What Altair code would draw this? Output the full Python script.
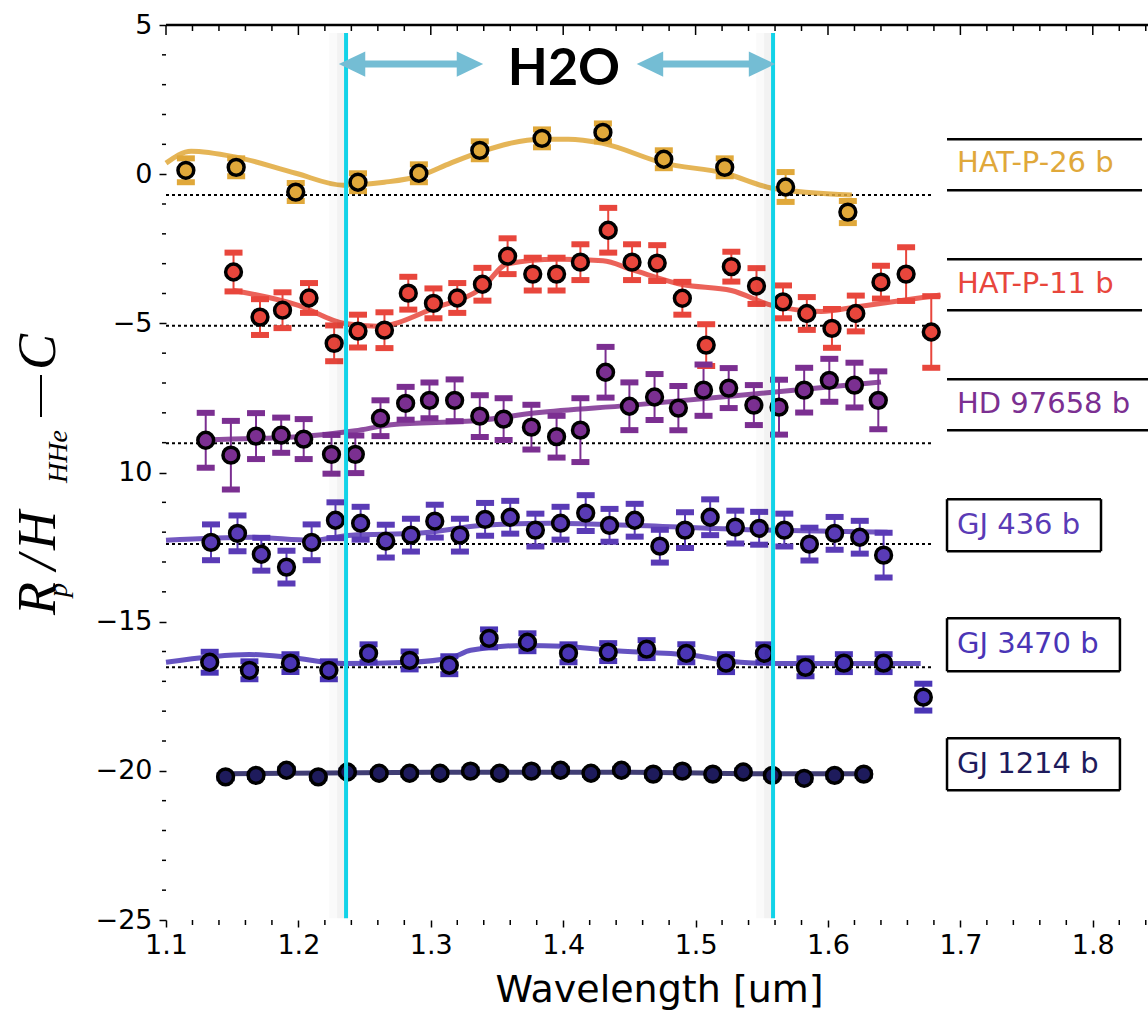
import altair as alt
import pandas as pd

# ---------------- data ----------------
planets = ["HAT-P-26 b", "HAT-P-11 b", "HD 97658 b", "GJ 436 b", "GJ 3470 b", "GJ 1214 b"]
colors = ["#e0a83a", "#e8463c", "#7b2f91", "#5a3bb6", "#4a35b6", "#1e1b5c"]
label_colors = ["#e2ab45", "#e8483d", "#7d3596", "#5a3db8", "#4b36b8", "#23215e"]

hp26_wl = [1.115, 1.153, 1.198, 1.245, 1.291, 1.337, 1.384, 1.430, 1.476, 1.522, 1.568, 1.615]
hp26_val = [0.13, 0.23, -0.60, -0.27, 0.03, 0.80, 1.20, 1.40, 0.50, 0.23, -0.43, -1.27]
hp26_err = [0.4, 0.3, 0.3, 0.3, 0.3, 0.3, 0.3, 0.3, 0.3, 0.3, 0.5, 0.37]
hp26_mwl = [1.100, 1.119, 1.153, 1.198, 1.234, 1.265, 1.291, 1.315, 1.337, 1.384, 1.404, 1.429, 1.476, 1.522, 1.558, 1.618]
hp26_mval = [0.37, 0.77, 0.57, 0.03, -0.37, -0.27, -0.07, 0.37, 0.74, 1.17, 1.17, 1.04, 0.37, 0.03, -0.47, -0.70]

hp11_wl = [1.151, 1.171, 1.188, 1.208, 1.227, 1.245, 1.265, 1.283, 1.302, 1.320, 1.339, 1.358, 1.377, 1.395, 1.413,
           1.434, 1.452, 1.471, 1.490, 1.508, 1.527, 1.546, 1.566, 1.584, 1.603, 1.621, 1.640, 1.659, 1.678]
hp11_val = [-3.28, -4.79, -4.56, -4.15, -5.67, -5.26, -5.23, -3.99, -4.33, -4.15, -3.69, -2.75, -3.35, -3.35, -2.95,
            -1.88, -2.95, -2.98, -4.16, -5.73, -3.10, -3.75, -4.28, -4.67, -5.17, -4.67, -3.62, -3.35, -5.29]
hp11_err = [0.65, 0.6, 0.6, 0.5, 0.6, 0.55, 0.6, 0.55, 0.5, 0.5, 0.55, 0.6, 0.55, 0.55, 0.6,
            0.75, 0.6, 0.6, 0.55, 0.7, 0.5, 0.6, 0.55, 0.55, 0.65, 0.6, 0.55, 0.9, 1.2]
hp11_mwl = [1.151, 1.200, 1.234, 1.260, 1.302, 1.339, 1.358, 1.395, 1.430, 1.452, 1.490, 1.527, 1.558, 1.595, 1.621, 1.685]
hp11_mval = [-3.9, -4.4, -5.0, -5.1, -4.5, -3.8, -3.0, -2.85, -2.9, -3.2, -3.7, -3.9, -4.4, -4.6, -4.45, -4.05]

hd_wl = [1.130, 1.149, 1.168, 1.187, 1.204, 1.225, 1.243, 1.262, 1.281, 1.299, 1.318, 1.337, 1.355, 1.376,
         1.395, 1.413, 1.432, 1.450, 1.469, 1.487, 1.506, 1.525, 1.544, 1.563, 1.582, 1.601, 1.620, 1.638]
hd_val = [-8.92, -9.42, -8.78, -8.75, -8.88, -9.39, -9.39, -8.18, -7.68, -7.58, -7.58, -8.11, -8.21, -8.48,
          -8.80, -8.58, -6.64, -7.78, -7.47, -7.84, -7.24, -7.17, -7.74, -7.81, -7.24, -6.91, -7.07, -7.58]
hd_err = [0.92, 1.15, 0.77, 0.59, 0.67, 0.65, 0.63, 0.6, 0.55, 0.6, 0.7, 0.7, 0.7, 0.75,
          0.7, 1.07, 0.85, 0.8, 0.77, 0.74, 0.86, 0.67, 0.67, 0.92, 0.75, 0.72, 0.75, 0.97]
hd_mwl = [1.130, 1.200, 1.243, 1.270, 1.337, 1.380, 1.450, 1.560, 1.640]
hd_mval = [-8.9, -8.8, -8.6, -8.4, -8.25, -8.0, -7.75, -7.3, -6.97]

gj436_wl = [1.134, 1.154, 1.172, 1.191, 1.210, 1.228, 1.247, 1.266, 1.285, 1.303, 1.322, 1.341, 1.360, 1.379,
            1.398, 1.417, 1.435, 1.454, 1.473, 1.492, 1.511, 1.530, 1.548, 1.567, 1.586, 1.605, 1.624, 1.642]
gj436_val = [-12.34, -12.04, -12.74, -13.17, -12.34, -11.60, -11.70, -12.30, -12.10, -11.63, -12.10, -11.57, -11.50, -11.93,
             -11.70, -11.36, -11.77, -11.60, -12.47, -11.93, -11.50, -11.83, -11.87, -11.93, -12.40, -12.04, -12.17, -12.77]
gj436_err = [0.6, 0.6, 0.55, 0.55, 0.6, 0.6, 0.55, 0.55, 0.55, 0.55, 0.55, 0.55, 0.55, 0.55,
             0.55, 0.6, 0.55, 0.55, 0.55, 0.6, 0.6, 0.55, 0.55, 0.55, 0.55, 0.55, 0.55, 0.75]
gj436_mwl = [1.100, 1.165, 1.210, 1.240, 1.290, 1.340, 1.390, 1.450, 1.550, 1.645]
gj436_mval = [-12.27, -12.17, -12.27, -12.10, -12.04, -11.77, -11.70, -11.77, -11.93, -12.00]

gj3470_wl = [1.133, 1.163, 1.194, 1.223, 1.253, 1.284, 1.314, 1.344, 1.373, 1.404, 1.434, 1.463, 1.493, 1.523,
             1.552, 1.583, 1.612, 1.642, 1.672]
gj3470_val = [-16.36, -16.63, -16.39, -16.63, -16.06, -16.30, -16.46, -15.56, -15.69, -16.06, -16.02, -15.92, -16.06, -16.39,
              -16.06, -16.53, -16.39, -16.39, -17.53]
gj3470_err = [0.35, 0.3, 0.3, 0.3, 0.3, 0.3, 0.3, 0.3, 0.3, 0.3, 0.3, 0.3, 0.3, 0.3, 0.3, 0.3, 0.3, 0.3, 0.45]
gj3470_mwl = [1.100, 1.163, 1.194, 1.234, 1.284, 1.316, 1.330, 1.370, 1.400, 1.434, 1.496, 1.534, 1.559, 1.670]
gj3470_mval = [-16.36, -16.10, -16.20, -16.40, -16.36, -16.20, -15.96, -15.80, -15.82, -15.96, -16.12, -16.36, -16.40, -16.40]

gj1214_wl = [1.145, 1.168, 1.191, 1.215, 1.237, 1.261, 1.284, 1.307, 1.330, 1.352, 1.376, 1.398, 1.421, 1.444,
             1.468, 1.490, 1.513, 1.536, 1.558, 1.582, 1.605, 1.627]
gj1214_val = [-20.20, -20.15, -19.98, -20.20, -20.04, -20.08, -20.08, -20.08, -20.01, -20.08, -20.01, -19.98, -20.08, -19.98,
              -20.11, -20.01, -20.11, -20.04, -20.15, -20.25, -20.15, -20.11]
gj1214_err = [0.05, 0.05, 0.05, 0.05, 0.05, 0.05, 0.05, 0.05, 0.05, 0.05, 0.05, 0.05, 0.05, 0.05,
              0.05, 0.05, 0.05, 0.05, 0.05, 0.05, 0.05, 0.05]
gj1214_mwl = [1.145, 1.300, 1.450, 1.558, 1.630]
gj1214_mval = [-20.10, -20.05, -20.05, -20.10, -20.10]

baseline_planets = ["HAT-P-26 b", "HAT-P-11 b", "HD 97658 b", "GJ 436 b", "GJ 3470 b"]
baseline_levels = [-0.70, -5.08, -9.02, -12.40, -16.53]
baseline_start = 1.10
baseline_end = 1.68

h2o_band = [1.236, 1.5585]          # cyan band edges (um)
band_top, band_bottom = 4.73, -24.94
arrow_tips = [(1.2307, 1.3394), (1.4557, 1.5600)]
arrow_level = 3.69
h2o_label = "H2O"

x_ticks = [1.1, 1.2, 1.3, 1.4, 1.5, 1.6, 1.7, 1.8]
y_ticks = [5, 0, -5, -10, -15, -20, -25]

# ---------------- tables ----------------
series = [
    ("HAT-P-26 b", hp26_wl, hp26_val, hp26_err, hp26_mwl, hp26_mval),
    ("HAT-P-11 b", hp11_wl, hp11_val, hp11_err, hp11_mwl, hp11_mval),
    ("HD 97658 b", hd_wl, hd_val, hd_err, hd_mwl, hd_mval),
    ("GJ 436 b", gj436_wl, gj436_val, gj436_err, gj436_mwl, gj436_mval),
    ("GJ 3470 b", gj3470_wl, gj3470_val, gj3470_err, gj3470_mwl, gj3470_mval),
    ("GJ 1214 b", gj1214_wl, gj1214_val, gj1214_err, gj1214_mwl, gj1214_mval),
]
pt_rows, md_rows = [], []
for name, wl, val, err, mwl, mval in series:
    for w, v, e in zip(wl, val, err):
        pt_rows.append(dict(planet=name, wl=w, val=v, lo=v - e, hi=v + e))
    for i, (w, v) in enumerate(zip(mwl, mval)):
        md_rows.append(dict(planet=name, wl=w, val=v, order=i))
pts = pd.DataFrame(pt_rows)
models = pd.DataFrame(md_rows)
baselines = pd.DataFrame(dict(planet=baseline_planets, val=baseline_levels,
                              wl=[baseline_start] * 5, wl2=[baseline_end] * 5))

# plot geometry
W, H = 982, 895
XMAX = 1.8417
xscale = alt.Scale(domain=[1.1, XMAX], nice=False, zero=False)
yscale = alt.Scale(domain=[-25, 5], nice=False, zero=False)
cscale = alt.Scale(domain=planets, range=colors)

xaxis = alt.Axis(values=x_ticks, format=".1f", title="Wavelength [um]", domain=False, grid=False,
                 tickSize=7, tickWidth=1.5, tickColor="black", labelFontSize=27, labelColor="black",
                 labelFont="DejaVu Sans", labelPadding=5, labelFlush=False, labelOverlap=False,
                 titleFont="DejaVu Sans", titleFontSize=38, titleFontWeight="normal", titleColor="black",
                 titleX=493, titleY=70, titleBaseline="middle", titleAlign="center", titleAngle=0)
yaxis = alt.Axis(values=y_ticks, format="d", title=None, domain=False, grid=False,
                 tickSize=7, tickWidth=1.5, tickColor="black", labelFontSize=27, labelColor="black",
                 labelFont="DejaVu Sans", labelPadding=7, labelFlush=False, labelOverlap=False,
                 labelExpr="datum.value == -10 ? '10' : datum.label")


def X(f):
    return alt.X(f, type="quantitative", scale=xscale, axis=xaxis)


def Y(f):
    return alt.Y(f, type="quantitative", scale=yscale, axis=yaxis)


COL = alt.Color("planet:N", scale=cscale, legend=None)

layers = []

# frame line and minor ticks
one = pd.DataFrame({"k": [0]})
layers.append(alt.Chart(one).mark_rule(color="black", strokeWidth=2.5).encode(
    x=alt.value(0), x2=alt.value(W), y=alt.value(0)))
minor_x = pd.DataFrame({"t": [round(1.10 + 0.02 * i, 2) for i in range(38)]})
minor_x["major"] = [abs(t * 10 - round(t * 10)) < 1e-6 for t in minor_x["t"]]
layers.append(alt.Chart(minor_x[~minor_x["major"]]).mark_rule(color="black", strokeWidth=1.5).encode(
    x=X("t"), y=alt.value(0), y2=alt.value(6)))
layers.append(alt.Chart(minor_x[minor_x["major"]]).mark_rule(color="black", strokeWidth=1.5).encode(
    x=X("t"), y=alt.value(0), y2=alt.value(10)))
layers.append(alt.Chart(minor_x[~minor_x["major"]]).mark_rule(color="black", strokeWidth=1.5).encode(
    x=X("t"), y=alt.value(H), y2=alt.value(H + 5)))
minor_y = pd.DataFrame({"m": [v for v in range(-24, 5) if v % 5 != 0]})
layers.append(alt.Chart(minor_y).mark_rule(color="black", strokeWidth=1.5).encode(
    y=Y("m"), x=alt.value(-4), x2=alt.value(0)))

# dotted baselines
layers.append(alt.Chart(baselines).mark_rule(color="black", strokeWidth=2, strokeDash=[3, 3]).encode(
    x=X("wl"), x2="wl2", y=Y("val")))

# model lines
layers.append(alt.Chart(models).mark_line(strokeWidth=5, opacity=0.85, interpolate="monotone").encode(
    x=X("wl"), y=Y("val"), color=COL, detail="planet:N", order="order:Q"))

# error bars
layers.append(alt.Chart(pts).mark_rule(strokeWidth=2).encode(x=X("wl"), y=Y("lo"), y2="hi", color=COL))
layers.append(alt.Chart(pts).mark_tick(orient="horizontal", size=18, thickness=6, opacity=1).encode(
    x=X("wl"), y=Y("lo"), color=COL))
layers.append(alt.Chart(pts).mark_tick(orient="horizontal", size=18, thickness=6, opacity=1).encode(
    x=X("wl"), y=Y("hi"), color=COL))

# points
layers.append(alt.Chart(pts).mark_circle(size=250, stroke="black", strokeWidth=3.5, opacity=1).encode(
    x=X("wl"), y=Y("val"), fill=alt.Fill("planet:N", scale=cscale, legend=None)))

# cyan H2O band lines with a soft shadow
band = pd.DataFrame({"wl": h2o_band, "top": [band_top] * 2, "bot": [band_bottom] * 2})
layers.append(alt.Chart(band).mark_rule(color="black", strokeWidth=16, opacity=0.018, xOffset=-9).encode(
    x=X("wl"), y=Y("top"), y2="bot"))
layers.append(alt.Chart(band).mark_rule(color="black", strokeWidth=8, opacity=0.03, xOffset=-5).encode(
    x=X("wl"), y=Y("top"), y2="bot"))
layers.append(alt.Chart(band).mark_rule(color="#12d3e8", strokeWidth=4).encode(
    x=X("wl"), y=Y("top"), y2="bot"))

# arrows
hw = 13.0 / (W / (XMAX - 1.1))  # head half-length in data units
shafts = pd.DataFrame({"a": [a + hw for a, b in arrow_tips], "b": [b - hw for a, b in arrow_tips],
                       "y": [arrow_level] * 2})
lheads = pd.DataFrame({"x": [a + hw for a, b in arrow_tips], "y": [arrow_level] * 2})
rheads = pd.DataFrame({"x": [b - hw for a, b in arrow_tips], "y": [arrow_level] * 2})
ARROW = "#74bdd4"
layers.append(alt.Chart(shafts).mark_rule(color=ARROW, strokeWidth=7).encode(x=X("a"), x2="b", y=Y("y")))
layers.append(alt.Chart(lheads).mark_point(shape="M 1 -0.95 L -1 0 L 1 0.95 Z", filled=True, size=700,
                                           color=ARROW, opacity=1).encode(x=X("x"), y=Y("y")))
layers.append(alt.Chart(rheads).mark_point(shape="M -1 -0.95 L 1 0 L -1 0.95 Z", filled=True, size=700,
                                           color=ARROW, opacity=1).encode(x=X("x"), y=Y("y")))
h2o = pd.DataFrame({"x": [1.4006], "y": [2.98], "t": [h2o_label]})
layers.append(alt.Chart(h2o).mark_text(font="Lato", fontWeight="bold", fontSize=52, color="black",
                                       align="center", baseline="alphabetic").encode(
    x=X("x"), y=Y("y"), text="t:N"))

# planet labels with boxes
lab = pd.DataFrame({
    "planet": planets,
    "tx": [1.6974] * 6,
    "ty": [0.369, -3.688, -7.71, -11.77, -15.76, -19.78],
    "x0": [1.6899] * 6,
    "x1": [1.8372, 1.8372, XMAX, 1.8062, 1.8205, 1.8205],
    "ytop": [1.173, -2.849, -6.872, -10.895, -14.884, -18.907],
    "ybot": [-0.536, -4.559, -8.582, -12.638, -16.661, -20.650],
    "boxed": [False, False, False, True, True, True],
})
hlines = pd.concat([lab[["x0", "x1"]].assign(y=lab["ytop"]), lab[["x0", "x1"]].assign(y=lab["ybot"])])
boxed = lab[lab["boxed"]]
vlines = pd.concat([boxed[["ytop", "ybot"]].assign(x=boxed["x0"]), boxed[["ytop", "ybot"]].assign(x=boxed["x1"])])
layers.append(alt.Chart(hlines).mark_rule(color="black", strokeWidth=2.5).encode(x=X("x0"), x2="x1", y=Y("y")))
layers.append(alt.Chart(vlines).mark_rule(color="black", strokeWidth=2.5).encode(x=X("x"), y=Y("ytop"), y2="ybot"))
layers.append(alt.Chart(lab).mark_text(font="DejaVu Sans", fontSize=29, align="left", baseline="middle").encode(
    x=X("tx"), y=Y("ty"), text="planet:N",
    color=alt.Color("planet:N", scale=alt.Scale(domain=planets, range=label_colors), legend=None)))

# y axis title built from pieces (rotated): R_p / H_HHe - C
title_pieces = [
    ("R", -111, 590, 54),
    ("p", -99, 572, 28),
    ("/", -111, 545, 54),
    ("H", -111, 525, 54),
    ("HHe", -99, 458, 28),
    ("C", -111, 345, 54),
]
for txt, px, py, fs in title_pieces:
    layers.append(alt.Chart(one).mark_text(text=txt, font="Liberation Serif", fontSize=fs, fontStyle="italic",
                                           angle=270, align="left", baseline="alphabetic", color="black").encode(
        x=alt.value(px), y=alt.value(py)))
# the minus sign of the title
layers.append(alt.Chart(one).mark_rule(color="black", strokeWidth=2).encode(
    x=alt.value(-125), y=alt.value(350), y2=alt.value(392)))

chart = alt.layer(*layers).properties(
    width=W, height=H,
    padding={"left": 166, "top": 25, "right": 0, "bottom": 97},
    autosize=alt.AutoSizeParams(type="none"),
    background="white",
).configure_view(stroke=None)

chart.save("out.html", embed_options={"renderer": "svg", "actions": False})
